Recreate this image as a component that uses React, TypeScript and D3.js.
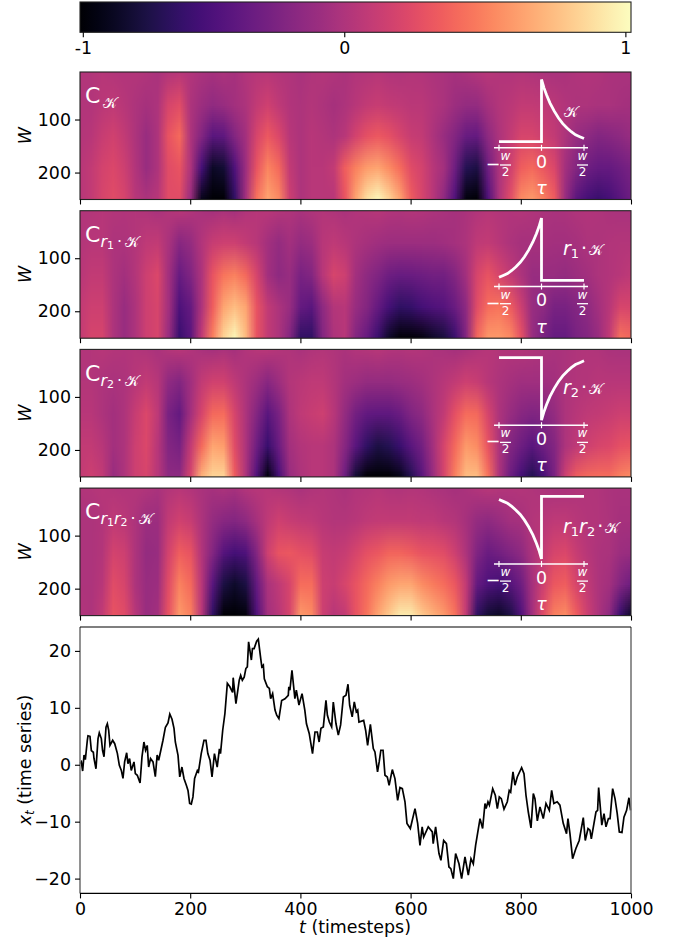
import * as d3 from 'd3';
import React, { useEffect, useRef } from 'react';

// heatmap grid: one column every 20 timesteps, rows at these window sizes
const heatT = d3.range(0, 1001, 20);
const heatW = [10, 70, 130, 190, 250];

// the smallest window looks the same in all four panels
const rowW10 = [
  .02, .03, .04, .03, .02, .03, .01, -.02, .03, .05, .02, -.02, -.03, -.01, -.03, .02, .04, .05, .03, .01,
  -.02, .01, .03, .01, -.01, .02, .03, .04, .02, .01, .03, .02, 0, -.02, -.03, -.01, .02, .04, .03, .02,
  .03, .01, 0, -.02, -.01, .01, .02, .01, -.01, -.02, -.02,
];

const kRows = [
  rowW10,
  [.02, .02, .06, .08, .04, 0, -.03, 0, .2, .25, 0, -.08, -.13, -.1, -.05, 0, .1, .16, .08, .02,
    0, .03, 0, -.03, 0, .05, .1, .12, .1, .08, .06, .06, .02, -.02, -.08, -.12, -.12, -.03, .03, .06,
    .1, .1, .08, .06, .02, 0, 0, -.02, -.02, -.03, -.05],
  [.03, .05, .12, .17, .1, 0, -.1, 0, .3, .4, 0, -.2, -.4, -.38, -.2, -.05, .2, .33, .22, .05,
    0, .05, .03, 0, .05, .18, .28, .33, .28, .2, .12, .1, 0, -.1, -.2, -.33, -.35, -.15, 0, .1,
    .2, .2, .15, .1, 0, -.1, -.15, -.2, -.18, -.15, -.1],
  [.05, .1, .18, .22, .15, .02, -.1, 0, .25, .3, 0, -.5, -.8, -.75, -.45, -.08, .3, .52, .4, .1,
    0, .05, .05, .1, .35, .5, .62, .65, .55, .42, .25, .18, .05, -.05, -.3, -.65, -.7, -.3, 0, .15,
    .35, .4, .32, .22, -.05, -.2, -.3, -.35, -.35, -.3, -.25],
  [.05, .1, .2, .25, .2, .05, 0, .05, .25, .25, -.1, -.85, -1, -.95, -.6, -.05, .45, .65, .55, .15,
    0, .05, .05, .05, .3, .65, .9, 1, .85, .65, .35, .2, .05, -.15, -.45, -.9, -.95, -.45, 0, .25,
    .55, .6, .5, .35, -.1, -.4, -.5, -.55, -.5, -.4, -.3],
];

const r1kRows = [
  rowW10,
  [.03, .05, .05, 0, 0, .03, .08, .1, -.02, -.18, -.12, .02, .12, .15, .15, .1, .05, -.05, -.12, -.05,
    -.12, -.08, .05, .08, .05, 0, -.03, -.06, -.08, -.08, -.08, -.08, -.08, -.06, -.04, 0, .08, .1, .05, 0,
    -.03, -.03, -.03, -.05, -.05, -.03, 0, 0, .02, .03, .03],
  [.05, .1, .1, 0, -.05, .03, .15, .22, -.05, -.33, -.22, 0, .3, .45, .5, .4, .2, -.05, -.15, -.1,
    -.25, -.2, .05, .2, .15, -.05, -.15, -.22, -.3, -.33, -.32, -.3, -.28, -.28, -.2, -.05, .2, .3, .2, .1,
    0, -.1, -.1, -.1, -.12, -.08, -.05, 0, .02, .05, .08],
  [.1, .15, .15, 0, -.1, 0, .15, .2, -.05, -.45, -.35, 0, .35, .65, .75, .65, .3, .1, 0, -.1,
    -.35, -.4, -.15, .03, .05, -.1, -.2, -.35, -.5, -.6, -.58, -.5, -.45, -.42, -.32, -.15, .25, .42, .45, .35,
    .15, -.1, -.15, -.25, -.25, -.2, -.15, -.05, .05, .2, .2],
  [.1, .2, .2, 0, -.1, 0, .15, .2, -.1, -.55, -.4, .1, .5, .85, 1, .75, .3, .1, 0, -.2,
    -.6, -.6, -.2, 0, .05, -.2, -.35, -.55, -.8, -.97, -1, -.9, -.8, -.72, -.55, -.2, .4, .6, .6, .55,
    .3, -.1, -.25, -.35, -.35, -.25, -.2, -.1, .1, .45, .4],
];

const r2kRows = [
  rowW10,
  [.03, .03, 0, -.02, 0, .05, .1, .04, -.14, -.2, -.06, .1, .17, .17, .08, 0, -.08, -.18, -.08, .03,
    .06, .08, .08, .03, -.05, -.08, -.12, -.12, -.12, -.1, -.08, -.05, 0, .05, .1, .15, .12, .05, 0, -.03,
    -.06, -.06, -.06, -.05, 0, .02, .03, .05, .05, .05, .05],
  [.05, .05, 0, -.05, 0, .12, .22, .08, -.25, -.35, -.05, .2, .4, .42, .2, 0, -.2, -.4, -.25, 0,
    .08, .12, .15, .05, -.12, -.28, -.36, -.38, -.38, -.32, -.22, -.15, -.02, .1, .28, .42, .4, .2, 0, -.1,
    -.18, -.22, -.2, -.12, 0, .05, .08, .1, .12, .15, .15],
  [.1, .1, .05, -.05, 0, .15, .22, .05, -.2, -.25, .1, .4, .65, .62, .25, 0, -.3, -.55, -.32, -.05,
    .02, .05, .05, 0, -.18, -.4, -.6, -.7, -.65, -.55, -.4, -.28, -.05, .2, .4, .6, .55, .3, 0, -.2,
    -.3, -.4, -.3, -.2, 0, .08, .15, .2, .22, .28, .3],
  [.1, .15, .1, -.1, 0, .15, .2, .05, -.15, -.15, .2, .7, .85, .85, .35, 0, -.45, -.9, -.5, -.1,
    0, .05, .05, 0, -.3, -.75, -.95, -1, -.98, -.85, -.65, -.4, -.1, .2, .5, .75, .75, .45, 0, -.3,
    -.5, -.65, -.5, -.25, .15, .35, .4, .42, .42, .5, .55],
];

const r1r2kRows = [
  rowW10,
  [0, 0, .02, .08, .06, 0, -.08, -.08, .1, .17, .12, 0, -.12, -.18, -.2, -.15, -.03, .08, .16, .12,
    .1, .08, .05, .03, .03, .05, .08, .1, .1, .1, .1, .08, .08, .05, .03, -.03, -.12, -.15, -.1, -.05,
    -.03, .03, .05, .08, .08, .05, .03, .02, 0, -.03, -.03],
  [0, 0, .03, .18, .15, 0, -.12, -.1, .18, .35, .3, .02, -.2, -.42, -.5, -.45, -.2, .15, .3, .32,
    .28, .25, .12, .1, .12, .2, .28, .32, .38, .38, .35, .3, .28, .25, .15, 0, -.22, -.32, -.28, -.22,
    -.15, 0, .1, .2, .22, .12, .05, 0, -.02, -.08, -.1],
  [0, 0, .05, .25, .2, 0, -.1, -.08, .25, .5, .4, .05, -.4, -.7, -.78, -.7, -.35, -.02, .08, .2,
    .42, .42, .15, .12, .2, .3, .4, .5, .6, .65, .65, .55, .48, .42, .32, .1, -.35, -.45, -.5, -.42,
    -.3, -.03, .15, .32, .35, .2, .1, 0, -.05, -.2, -.3],
  [.02, 0, .1, .3, .25, .05, -.1, -.05, .3, .6, .5, .05, -.6, -.95, -1, -.9, -.45, -.05, .05, .2,
    .6, .55, .15, .05, .1, .3, .45, .65, .8, .95, .95, .8, .7, .6, .45, .1, -.6, -.75, -.8, -.7,
    -.45, -.05, .25, .5, .55, .35, .15, 0, -.15, -.55, -.8],
];

// kernel shape, for tau from 0 to 1
const kernelTau = [0, .06, .12, .2, .3, .4, .5, .6, .7, .8, .9, 1];
const kernelVal = [1, .86, .75, .62, .49, .38, .29, .22, .16, .11, .08, .05];

// time series, vertices
const lineT = [
  0, 2.4, 4.8, 7.3, 9.7, 13.3, 14.5, 18.1, 20.6, 24.2, 25.4, 29, 32.7, 35, 38.7, 41, 43.6, 47.2, 49.6, 52,
  54.4, 59.3, 63, 67.8, 71.4, 75, 78, 81, 84.7, 87, 90, 93, 98, 100.4, 104, 109, 112.5, 116, 119, 122,
  124.6, 128, 132.5, 136.7, 140, 142.8, 150.6, 155, 159.7, 163, 167, 170.6, 173, 177.9, 181, 185, 188.7, 193, 196, 199,
  202, 205, 208, 213, 215, 220, 225, 228.7, 232, 236, 239.6, 244, 249, 253, 255, 259, 263, 267.4, 272, 277,
  278, 283, 289, 291.6, 294.6, 298, 301, 303.7, 306, 311, 313, 316, 320.6, 323.6, 328, 330, 332.7, 334.5, 340, 343.6,
  346, 349.6, 353.9, 357, 361, 366, 372, 378, 379, 381, 384.7, 390, 392.6, 397.4, 403, 408, 411, 416, 422, 426.5,
  430.7, 434, 437.3, 441.6, 446.4, 449, 452.5, 456.7, 459.7, 464.6, 468.8, 473, 478, 482.7, 486.4, 489.4, 494, 497.8, 501.5, 504,
  506.3, 514.8, 518.4, 522, 527, 532.3, 535.3, 540, 543, 546, 550, 553.5, 557.7, 561, 566.8, 571.6, 576.5, 580.7, 585, 589.8,
  593.4, 599.5, 608, 612.8, 617, 621, 623.7, 632, 639.4, 641, 645.4, 651.5, 655, 660, 665, 669.6, 673, 677.5, 681.7, 687.8,
  692.6, 698.7, 704.7, 709.6, 713.8, 718, 726, 730.7, 735, 737, 740.4, 743, 749, 753.7, 757.4, 761, 764.6, 769.5, 775.5, 779,
  781.6, 785.8, 789.4, 793.6, 801.5, 805.8, 809.4, 813.6, 818.5, 822.7, 825.7, 830, 834.8, 840.8, 845.7, 851.7, 856, 860, 866, 871,
  877, 883, 885.6, 889.2, 894, 900, 906, 913.4, 917, 922, 925.5, 928, 932.8, 936.4, 939.4, 941.3, 947, 951, 954.6, 959,
  962, 966.7, 971, 975, 978.8, 983.6, 987.2, 992, 996.3, 999.3,
];
const lineX = [
  .2, .5, -1.1, 1.7, .9, 4.3, 5.1, 5, 2.5, 2.2, 1.1, -.7, 4.6, 5.6, 4.6, 2.5, 1.4, 6.6, 7.2, 6.1,
  3.4, 4.3, 3.7, 2, -.1, -1, -2.4, .5, 2.1, .2, 1.1, -1, .5, -1.55, -1.85, -3.2, 1.4, 4, 2.55, 3.4,
  -.4, 1.1, .5, -2.1, 1.7, .8, 4.3, 6.6, 7.35, 8.9, 8, 6.4, 4, 1.65, -2.14, -.4, -2.4, -3.6, -4.5, -6.8,
  -6.9, -5.65, -2.4, -1, -1.26, 1.96, 4.3, 4.3, 1.96, .8, -2.14, 1.96, -.4, 2.8, 1.96, 6.06, 9, 14.3, 13.7, 12.7,
  15.3, 10.75, 14.85, 15.7, 14.85, 15.4, 16.9, 17.2, 21.6, 18.4, 20.4, 20.4, 21.7, 22.06, 18.66, 17.2, 17.5, 15.1, 13.7, 13.4,
  11.6, 12.5, 9.6, 8.7, 8.1, 11.3, 11.6, 12.2, 13.7, 13.1, 16.6, 11.6, 13.1, 10.5, 12.5, 9.6, 7.2, 5.5, 1.96, 5.75,
  5.75, 4, 6.4, 6.65, 11.3, 8.7, 7.5, 6.65, 11, 7.2, 5.2, 7, 11.9, 12.2, 14.15, 10.45, 8.4, 11.04, 9.3, 9.6,
  7.5, 7.8, 6.06, 3.4, 7.1, 2.85, 2.25, -1.26, .5, 2.55, 2.55, -1.85, -2.14, -3.6, -.85, -2.43, -6.24, -4, -4.2, -6.5,
  -10.3, -11.2, -7.7, -10.3, -14.15, -10.9, -12.7, -10.9, -11.8, -13.85, -10.9, -15.6, -16.8, -13.3, -13.85, -17.96, -18.25, -20, -15.6, -17.4,
  -20, -16.2, -19.4, -16.5, -17.4, -14.15, -9.46, -11.2, -6.8, -7.7, -6.5, -7.1, -4.2, -5.36, -7.7, -5.65, -5.95, -7.8, -6.5, -4.5,
  -4.8, -1.26, -3.6, -2.14, -.5, -1.55, -5.36, -8.3, -11.1, -5.07, -5.95, -9.87, -7.4, -9.46, -6.8, -8, -4.5, -6.8, -6.5, -7.1,
  -10.3, -12.1, -9.46, -12.1, -16.5, -14.7, -13.3, -9.3, -13.3, -11.2, -11.5, -13, -10.3, -8.3, -8, -4, -10.6, -8.6, -10.9, -9.46,
  -9.46, -4.2, -5.95, -8.6, -11.8, -11.9, -9.2, -8, -5.8, -8,
];

const xTicks = [0, 200, 400, 600, 800, 1000];
const wTicks = [100, 200];
const lineTicks = [-20, -10, 0, 10, 20];
// the colourbar ticks do not sit on the ends of the bar
const cbTicks = [-.93, 0, 1];
const cbLabels = ['-1', '0', '1'];

const panels = [
  { rows: kRows, flip: false, mirror: false, sub: [['𝒦', 0]], inset: [['𝒦', 0]], insetX: 564 },
  { rows: r1kRows, flip: false, mirror: true, sub: [['r', 1], ['1', 2], ['·', 0], ['𝒦', 0]], inset: [['r', 1], ['1', 2], ['·', 0], ['𝒦', 0]], insetX: 563 },
  { rows: r2kRows, flip: true, mirror: false, sub: [['r', 1], ['2', 2], ['·', 0], ['𝒦', 0]], inset: [['r', 1], ['2', 2], ['·', 0], ['𝒦', 0]], insetX: 563 },
  { rows: r1r2kRows, flip: true, mirror: true, sub: [['r', 1], ['1', 2], ['r', 1], ['2', 2], ['·', 0], ['𝒦', 0]], inset: [['r', 1], ['1', 2], ['r', 1], ['2', 2], ['·', 0], ['𝒦', 0]], insetX: 563 },
] as const;

const FONT = '"DejaVu Sans", sans-serif';
const FS = 17.4;
const LEFT = 80;
const RIGHT = 631;

const App: React.FC = () => {
  const ref = useRef<SVGSVGElement | null>(null);

  useEffect(() => {
    const svg = d3.select(ref.current);
    svg.selectAll('*').remove();

    const x = d3.scaleLinear().domain([0, 1000]).range([LEFT, RIGHT]);
    const color = d3.scaleSequential(d3.interpolateMagma).domain([-.94, 1.02]);

    const styleAxis = (g: any) => {
      g.selectAll('text').attr('font-family', FONT).attr('font-size', FS).attr('fill', '#000');
      g.selectAll('line').attr('stroke', '#000').attr('stroke-width', 1.1);
      g.select('.domain').remove();
    };

    const defs = svg.append('defs');

    // colourbar
    const cbX = d3.scaleLinear().domain([-.94, 1.02]).range([LEFT, RIGHT]);
    const grad = defs.append('linearGradient').attr('id', 'cb');
    d3.range(0, 1.0001, 1 / 32).forEach(f => {
      grad.append('stop').attr('offset', f).attr('stop-color', d3.interpolateMagma(f));
    });
    svg.append('rect').attr('x', LEFT).attr('y', 2).attr('width', RIGHT - LEFT).attr('height', 30.3)
      .attr('fill', 'url(#cb)').attr('stroke', '#222').attr('stroke-width', 1.1);
    const cbAxis = svg.append('g').attr('transform', 'translate(0,32.3)')
      .call(d3.axisBottom(cbX).tickValues(cbTicks).tickSize(5).tickPadding(4)
        .tickFormat((_d, i) => cbLabels[i]));
    styleAxis(cbAxis);

    // heatmaps
    const top0 = 72;
    const step = 138.7;
    const hgt = 127.5;

    panels.forEach((p, i) => {
      const top = top0 + i * step;
      const y = d3.scaleLinear().domain([10.4, 250.8]).range([top, top + hgt]);

      // low res cells, the browser smooths them when the image is scaled up
      const canvas = document.createElement('canvas');
      canvas.width = heatT.length;
      canvas.height = heatW.length;
      const ctx = canvas.getContext('2d')!;
      p.rows.forEach((row, r) => {
        row.forEach((v, c) => {
          ctx.fillStyle = color(v);
          ctx.fillRect(c, r, 1, 1);
        });
      });

      const clipId = `clip${i}`;
      defs.append('clipPath').attr('id', clipId).append('rect')
        .attr('x', LEFT).attr('y', top).attr('width', RIGHT - LEFT).attr('height', hgt);
      svg.append('g').attr('clip-path', `url(#${clipId})`).append('image')
        .attr('href', canvas.toDataURL())
        .attr('x', x(-10)).attr('y', y(-20))
        .attr('width', x(1010) - x(-10)).attr('height', y(280) - y(-20))
        .attr('preserveAspectRatio', 'none');

      svg.append('rect').attr('x', LEFT).attr('y', top).attr('width', RIGHT - LEFT).attr('height', hgt)
        .attr('fill', 'none').attr('stroke', '#222').attr('stroke-width', 1.1);

      const ax = svg.append('g').attr('transform', `translate(0,${top + hgt})`)
        .call(d3.axisBottom(x).tickValues(xTicks).tickSize(5).tickFormat(() => ''));
      styleAxis(ax);
      const ay = svg.append('g').attr('transform', `translate(${LEFT},0)`)
        .call(d3.axisLeft(y).tickValues(wTicks).tickSize(5).tickPadding(4));
      styleAxis(ay);

      svg.append('text').attr('transform', `translate(30.7,${top + hgt / 2}) rotate(-90)`)
        .attr('text-anchor', 'middle').attr('font-family', FONT).attr('font-size', FS)
        .attr('font-style', 'italic').text('W');

      // panel title
      const title = svg.append('text').attr('x', 85).attr('y', top + 31.3)
        .attr('font-family', FONT).attr('fill', '#fff').attr('font-size', 22);
      title.append('tspan').text('C');
      p.sub.forEach(([s, kind], j) => {
        const prev = j > 0 ? p.sub[j - 1][1] : -1;
        const t = title.append('tspan').text(s).attr('font-size', kind === 2 ? 11 : s === '𝒦' ? 15 : 16);
        if (kind === 1) t.attr('font-style', 'italic');
        const base = kind === 2 ? 7 : 5;
        const prevBase = prev === 2 ? 7 : prev === -1 ? 0 : 5;
        t.attr('dy', base - prevBase);
        if (s === '·' || s === '𝒦') t.attr('dx', 3);
      });

      // inset kernel
      const tau = d3.scaleLinear().domain([-1, 1]).range([499, 584]);
      const val = d3.scaleLinear()
        .domain(p.flip ? [-1, 0] : [0, 1])
        .range(p.flip ? [top + 70.8, top + 8.3] : [top + 69.7, top + 7.4]);
      const sign = p.flip ? -1 : 1;
      const side = p.mirror ? -1 : 1;
      const curve = kernelTau.map((t, k): [number, number] => [side * t, sign * kernelVal[k]]);
      const shape: [number, number][] = [[-side, 0], [0, 0], ...curve];
      svg.append('path')
        .attr('d', d3.line().x(d => tau(d[0])).y(d => val(d[1]))(shape))
        .attr('fill', 'none').attr('stroke', '#fff').attr('stroke-width', 2.8);

      const axisY = top + 75.8;
      svg.append('line').attr('x1', 494).attr('x2', 588).attr('y1', axisY).attr('y2', axisY)
        .attr('stroke', '#fff').attr('stroke-width', 1.5);
      [-1, 0, 1].forEach(t => {
        svg.append('line').attr('x1', tau(t)).attr('x2', tau(t)).attr('y1', axisY - 3).attr('y2', axisY + 3)
          .attr('stroke', '#fff').attr('stroke-width', 1.2);
      });
      [-1, 1].forEach(t => {
        const cx = t < 0 ? 505.5 : 582.5;
        svg.append('text').attr('x', cx).attr('y', top + 88).attr('text-anchor', 'middle')
          .attr('font-family', FONT).attr('font-style', 'italic').attr('font-size', 12)
          .attr('fill', '#fff').text('w');
        svg.append('line').attr('x1', cx - 5.5).attr('x2', cx + 5.5).attr('y1', top + 93).attr('y2', top + 93)
          .attr('stroke', '#fff').attr('stroke-width', 1.3);
        svg.append('text').attr('x', cx).attr('y', top + 104).attr('text-anchor', 'middle')
          .attr('font-family', FONT).attr('font-size', 12).attr('fill', '#fff').text('2');
      });
      svg.append('text').attr('x', 493).attr('y', top + 98).attr('text-anchor', 'middle')
        .attr('font-family', FONT).attr('font-size', FS).attr('fill', '#fff').text('−');
      svg.append('text').attr('x', tau(0)).attr('y', top + 95.5).attr('text-anchor', 'middle')
        .attr('font-family', FONT).attr('font-size', FS).attr('fill', '#fff').text('0');
      svg.append('text').attr('x', tau(0)).attr('y', top + 122).attr('text-anchor', 'middle')
        .attr('font-family', FONT).attr('font-style', 'italic').attr('font-size', FS).attr('fill', '#fff').text('τ');

      const lab = svg.append('text').attr('x', p.insetX).attr('y', top + 44.5)
        .attr('font-family', FONT).attr('fill', '#fff').attr('font-size', 19);
      p.inset.forEach(([s, kind], j) => {
        const prev = j > 0 ? p.inset[j - 1][1] : 0;
        const t = lab.append('tspan').text(s).attr('font-size', kind === 2 ? 13 : s === '𝒦' ? 15 : 19);
        if (kind === 1) t.attr('font-style', 'italic');
        t.attr('dy', (kind === 2 ? 3 : 0) - (prev === 2 ? 3 : 0));
        if (s === '·') t.attr('dx', 2);
        if (s === '𝒦' && j > 0) t.attr('dx', 2);
      });
    });

    // time series
    const lineTop = 627;
    const lineBottom = 893.4;
    const yLine = d3.scaleLinear().domain([-22.6, 24.2]).range([lineBottom, lineTop]);
    const points = lineT.map((t, i): [number, number] => [t, lineX[i]]);
    svg.append('path')
      .attr('d', d3.line().x(d => x(d[0])).y(d => yLine(d[1]))(points))
      .attr('fill', 'none').attr('stroke', '#000').attr('stroke-width', 1.7);
    // side spines come out grey in the reference
    [LEFT, RIGHT].forEach(sx => {
      svg.append('line').attr('x1', sx).attr('x2', sx).attr('y1', lineTop).attr('y2', lineBottom)
        .attr('stroke', '#777').attr('stroke-width', 1.6);
    });
    [lineTop, lineBottom].forEach(sy => {
      svg.append('line').attr('x1', LEFT).attr('x2', RIGHT).attr('y1', sy).attr('y2', sy)
        .attr('stroke', '#000').attr('stroke-width', 1.1);
    });
    const bx = svg.append('g').attr('transform', `translate(0,${lineBottom})`)
      .call(d3.axisBottom(x).tickValues(xTicks).tickSize(5).tickPadding(4).tickFormat(d3.format('d')));
    styleAxis(bx);
    const by = svg.append('g').attr('transform', `translate(${LEFT},0)`)
      .call(d3.axisLeft(yLine).tickValues(lineTicks).tickSize(5).tickPadding(4));
    styleAxis(by);

    const xLab = svg.append('text').attr('x', 355).attr('y', 933).attr('text-anchor', 'middle')
      .attr('font-family', FONT).attr('font-size', FS);
    xLab.append('tspan').attr('font-style', 'italic').text('t');
    xLab.append('tspan').text(' (timesteps)');

    const yLab = svg.append('text').attr('transform', 'translate(30.7,760) rotate(-90)')
      .attr('text-anchor', 'middle').attr('font-family', FONT).attr('font-size', FS);
    yLab.append('tspan').attr('font-style', 'italic').text('x');
    yLab.append('tspan').attr('font-style', 'italic').attr('font-size', 12).attr('dy', 3).text('t');
    yLab.append('tspan').attr('dy', -3).text(' (time series)');
  }, []);

  return <svg ref={ref} width={680} height={943} style={{ position: 'absolute', left: 0, top: 0, background: '#fff' }} />;
};

export default App;
